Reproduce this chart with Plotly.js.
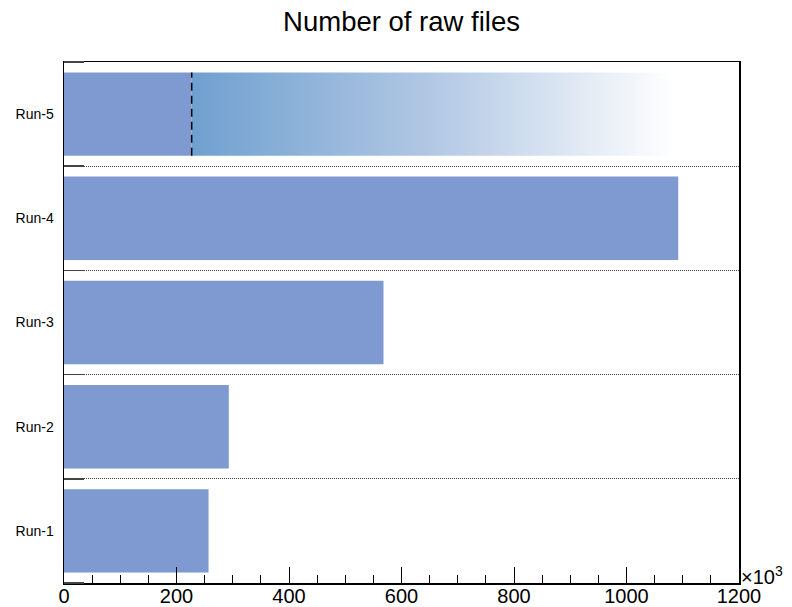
<!DOCTYPE html>
<html>
<head>
<meta charset="utf-8">
<script src="https://cdn.plot.ly/plotly-3.0.1.min.js"></script>
<style>html,body{margin:0;padding:0;background:#fff;}#chart{width:792px;height:607px;}</style>
</head>
<body>
<div id="chart"></div>
<script>
// Data (values in thousands of files)
const categories = ["Run-1", "Run-2", "Run-3", "Run-4", "Run-5"];
const rawFiles = [257, 293, 568, 1092, 227];
const run5Projected = 1085;   // extent of the faded (projected) part of Run-5
const xTicks = [0, 200, 400, 600, 800, 1000, 1200];

const barColor = "rgb(127,154,208)";
const barWidth = 0.8;
const idx = categories.map((c, i) => i);
const last = categories.length - 1;

const bars = {
  type: "bar",
  orientation: "h",
  y: idx,
  x: rawFiles,
  width: barWidth,
  marker: {color: barColor, line: {width: 0}},
  hoverinfo: "skip"
};

const y0 = last - barWidth / 2, y1 = last + barWidth / 2;
const xs = rawFiles[last], xe = run5Projected;
const fade = {
  type: "scatter",
  mode: "lines",
  x: [xs, xe, xe, xs, xs],
  y: [y0, y0, y1, y1, y0],
  fill: "toself",
  line: {width: 0, color: "rgba(0,0,0,0)"},
  fillgradient: {
    type: "horizontal",
    colorscale: [[0, "rgb(112,160,208)"], [0.5, "rgb(178,200,228)"], [1, "rgb(255,255,255)"]]
  },
  hoverinfo: "skip",
  showlegend: false
};

const boundaries = [];
for (let i = 0; i <= categories.length; i++) boundaries.push(i - 0.5);

const layout = {
  width: 792,
  height: 607,
  margin: {l: 64, r: 53, t: 62, b: 24},
  paper_bgcolor: "#fff",
  plot_bgcolor: "#fff",
  showlegend: false,
  font: {family: "Liberation Sans, Arial, sans-serif", color: "#000"},
  title: {
    text: "Number of raw files",
    font: {size: 27.5, color: "#000"},
    x: 0.507, xanchor: "center",
    y: 0.964, yanchor: "middle"
  },
  xaxis: {
    range: [0, 1200],
    tickvals: xTicks,
    ticktext: xTicks.map(String),
    ticks: "inside",
    ticklen: 16,
    tickwidth: 1,
    tickcolor: "#000",
    ticklabelstandoff: -6,
    minor: {dtick: 50, tick0: 0, ticks: "inside", ticklen: 8, tickwidth: 1, tickcolor: "#000", showgrid: false},
    showgrid: false,
    zeroline: false,
    showline: true,
    linecolor: "#000",
    linewidth: 1.5,
    mirror: true,
    tickfont: {size: 20, color: "#000"},
    fixedrange: true
  },
  yaxis: {
    range: [-0.5, categories.length - 0.5],
    tickvals: idx,
    ticktext: categories,
    ticks: "",
    showgrid: false,
    zeroline: false,
    showline: true,
    linecolor: "#000",
    linewidth: 1.5,
    mirror: true,
    ticklabelstandoff: 6,
    tickfont: {size: 14, color: "#000"},
    minor: {
      tickvals: boundaries,
      ticks: "inside",
      ticklen: 20,
      tickwidth: 1.5,
      tickcolor: "#444",
      showgrid: true,
      gridcolor: "#444",
      gridwidth: 1,
      griddash: "1px,1px"
    },
    fixedrange: true
  },
  shapes: [{
    type: "line",
    xref: "x", yref: "y",
    x0: rawFiles[last], x1: rawFiles[last],
    y0: y0, y1: y1,
    line: {color: "#000", width: 1.5, dash: "8px,5px"}
  }],
  annotations: [{
    xref: "paper", yref: "paper",
    x: 1.0, y: 0,
    xanchor: "left", yanchor: "bottom",
    xshift: 0, yshift: -7,
    text: "×10<sup>3</sup>",
    showarrow: false,
    font: {size: 20, color: "#000"}
  }]
};

Plotly.newPlot("chart", [bars, fade], layout, {displayModeBar: false, staticPlot: true});
</script>
</body>
</html>
